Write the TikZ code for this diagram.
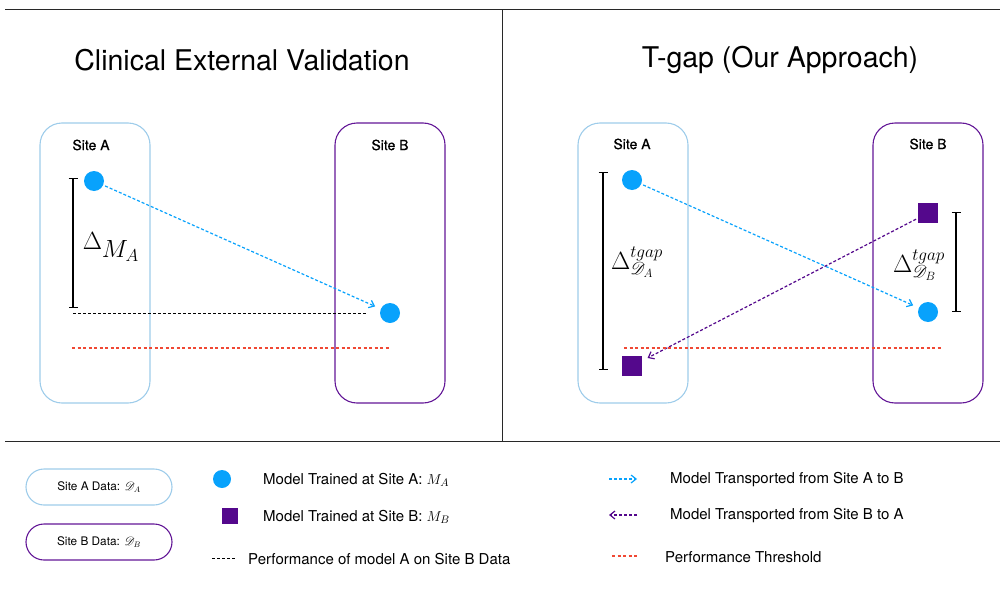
\documentclass[tikz,border=0pt]{standalone}
\usepackage{fontspec}
\usepackage{mathrsfs}
\setmainfont{TeX Gyre Heros}
\newfontfamily\semibold[FakeBold=0.6]{TeX Gyre Heros}
\usetikzlibrary{arrows.meta}
\definecolor{boxA}{RGB}{158,204,234}
\definecolor{boxB}{RGB}{98,22,150}
\definecolor{modelA}{RGB}{8,162,252}
\definecolor{modelB}{RGB}{84,8,140}
\definecolor{thresh}{RGB}{240,72,52}
\definecolor{rule}{RGB}{40,40,40}
\tikzset{
  sitebox/.style={draw, line width=1.1pt, rounded corners=22pt, minimum width=110pt, minimum height=280pt, inner sep=0pt},
  pill/.style={draw, line width=1.1pt, rounded corners=18pt, minimum width=146pt, minimum height=36pt, inner sep=0pt, font=\fontsize{11.8}{14}\selectfont},
  sitelabel/.style={font=\semibold\fontsize{14}{16}\selectfont, inner sep=0pt},
  title/.style={font=\fontsize{28.5}{32}\selectfont, inner sep=0pt},
  legtext/.style={anchor=west, font=\fontsize{15}{18}\selectfont, inner sep=0pt},
  dotA/.style={circle, fill=modelA, minimum size=20pt, inner sep=0pt},
  sqB/.style={rectangle, fill=modelB, minimum size=20pt, inner sep=0pt},
  moveA/.style={draw=modelA, line width=1.2pt, dash pattern=on 3pt off 2pt, -{Straight Barb[length=5pt,width=8pt]}},
  moveB/.style={draw=modelB, line width=1.2pt, dash pattern=on 3pt off 2pt, -{Straight Barb[length=5pt,width=8pt]}},
  perfline/.style={draw=black, line width=1pt, dash pattern=on 3pt off 2pt},
  threshline/.style={draw=thresh, line width=1.1pt, dash pattern=on 3pt off 2.5pt},
  gapbar/.style={draw=black, line width=1.2pt, {Bar[width=9pt]}-{Bar[width=9pt]}},
  frame/.style={draw=rule, line width=1pt}
}
\begin{document}
\begin{tikzpicture}[x=1pt, y=-1pt]
\useasboundingbox (0,0) rectangle (1000,594);

% frame rules
\coordinate (tl) at (5,10);
\coordinate (tr) at (1000,10);
\coordinate (mt) at (502,10);
\coordinate (mb) at (502,441);
\coordinate (bl) at (5,441);
\coordinate (br) at (1000,441);
\draw[frame] (tl) -- (tr);
\draw[frame] (bl) -- (br);
\draw[frame] (mt) -- (mb);

% ---------- left panel: clinical external validation ----------
\node[title] (t1) at (242,60) {Clinical External Validation};
\node[sitebox, draw=boxA] (lA) at (95,263) {};
\node[sitebox, draw=boxB] (lB) at (390,263) {};
\node[sitelabel] (lAl) at (91,145) {Site A};
\node[sitelabel] (lBl) at (390,145) {Site B};
\node[dotA] (lma) at (94,181) {};
\node[dotA] (lmb) at (390,313) {};
\draw[moveA, shorten <=2pt, shorten >=6pt] (lma) -- (lmb);
\coordinate (lg1) at (73,178);
\coordinate (lg2) at (73,308);
\draw[gapbar] (lg1) -- (lg2);
\node[font=\fontsize{33}{36}\selectfont, inner sep=0pt] (ldelta) at (111,247) {$\Delta_{M_A}$};
\coordinate (lp1) at (73,313);
\coordinate (lp2) at (367,313);
\draw[perfline] (lp1) -- (lp2);
\coordinate (lr1) at (72,348);
\coordinate (lr2) at (389,348);
\draw[threshline] (lr1) -- (lr2);

% ---------- right panel: t-gap ----------
\node[title] (t2) at (780,60) {T-gap (Our Approach)};
\node[sitebox, draw=boxA] (rA) at (633,263) {};
\node[sitebox, draw=boxB] (rB) at (928,263) {};
\node[sitelabel] (rAl) at (632,144) {Site A};
\node[sitelabel] (rBl) at (928,144) {Site B};
\node[dotA] (rma) at (632,180) {};
\node[sqB] (rmbA) at (632,366) {};
\node[sqB] (rmbB) at (928,213) {};
\node[dotA] (rmaB) at (928,312) {};
\draw[moveA, shorten <=2pt, shorten >=6pt] (rma) -- (rmaB);
\draw[moveB, shorten <=2pt, shorten >=6pt] (rmbB) -- (rmbA);
\coordinate (rg1) at (603,172);
\coordinate (rg2) at (603,370);
\draw[gapbar] (rg1) -- (rg2);
\coordinate (rg3) at (956,212);
\coordinate (rg4) at (956,312);
\draw[gapbar] (rg3) -- (rg4);
\node[font=\fontsize{24}{28}\selectfont, inner sep=0pt] (rdA) at (637,262) {$\Delta^{tgap}_{\mathscr{D}_A}$};
\node[font=\fontsize{24}{28}\selectfont, inner sep=0pt] (rdB) at (919,265) {$\Delta^{tgap}_{\mathscr{D}_B}$};
\coordinate (rr1) at (624,348);
\coordinate (rr2) at (942,348);
\draw[threshline] (rr1) -- (rr2);

% ---------- legend ----------
\node[pill, draw=boxA] (kA) at (99,487) {Site A Data: $\mathscr{D}_A$};
\node[pill, draw=boxB] (kB) at (99,542) {Site B Data: $\mathscr{D}_B$};

\node[dotA, minimum size=18pt] (kma) at (222,479) {};
\node[legtext] (kmat) at (263,480) {Model Trained at Site A: $M_A$};
\node[sqB, minimum size=16pt] (kmb) at (230,516) {};
\node[legtext] (kmbt) at (263,517) {Model Trained at Site B: $M_B$};
\coordinate (kp1) at (212,558);
\coordinate (kp2) at (235,558);
\draw[perfline] (kp1) -- (kp2);
\node[legtext] (kpt) at (248,559) {Performance of model A on Site B Data};

\coordinate (ka1) at (609,479);
\coordinate (ka2) at (637,479);
\draw[moveA] (ka1) -- (ka2);
\node[legtext] (kat) at (670,480) {Model Transported from Site A to B};
\coordinate (kb1) at (637,515);
\coordinate (kb2) at (609,515);
\draw[moveB] (kb1) -- (kb2);
\node[legtext] (kbt) at (670,516) {Model Transported from Site B to A};
\coordinate (kr1) at (612,556);
\coordinate (kr2) at (637,556);
\draw[threshline] (kr1) -- (kr2);
\node[legtext] (krt) at (665,557) {Performance Threshold};
\end{tikzpicture}
\end{document}
